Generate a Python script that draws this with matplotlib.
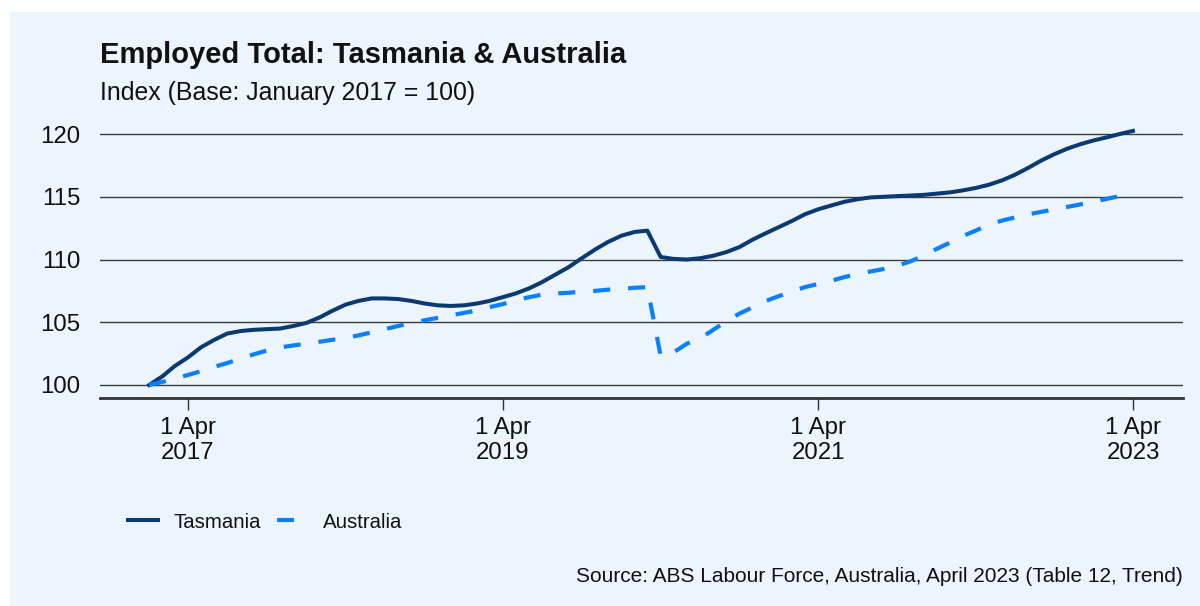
import pandas as pd
import matplotlib
matplotlib.use("Agg")
import matplotlib.pyplot as plt
from matplotlib.patches import Rectangle

plt.rcParams['font.family'] = ['Liberation Sans', 'DejaVu Sans']

# monthly trend index, Jan 2017 .. Apr 2023 (Jan 2017 = 100)
months = pd.date_range("2017-01-01", "2023-04-01", freq="MS")
tasmania = [
    100.0, 100.7, 101.5, 102.2, 103.0, 103.6, 104.1, 104.3, 104.4, 104.45, 104.5, 104.7,
    104.95, 105.4, 105.9, 106.4, 106.7, 106.9, 106.9, 106.85, 106.7, 106.5, 106.35, 106.3,
    106.35, 106.5, 106.7, 107.0, 107.3, 107.7, 108.2, 108.8, 109.4, 110.1, 110.8, 111.4,
    111.9, 112.2, 112.3, 110.2, 110.05, 110.0, 110.1, 110.3, 110.6, 111.0, 111.6, 112.1,
    112.6, 113.1, 113.6, 114.0, 114.3, 114.6, 114.8, 114.95, 115.0, 115.05, 115.1, 115.15,
    115.25, 115.35, 115.5, 115.7, 115.95, 116.3, 116.75, 117.3, 117.9, 118.4, 118.85, 119.2,
    119.5, 119.75, 120.0, 120.25,
]
australia = [
    100.0, 100.25, 100.5, 100.8, 101.1, 101.45, 101.75, 102.1, 102.45, 102.75, 103.0, 103.15,
    103.3, 103.45, 103.6, 103.75, 103.95, 104.2, 104.45, 104.7, 104.95, 105.15, 105.35, 105.55,
    105.75, 105.95, 106.2, 106.45, 106.75, 107.0, 107.2, 107.3, 107.35, 107.45, 107.5, 107.6,
    107.65, 107.75, 107.8, 102.3, 102.6, 103.3, 103.7, 104.4, 105.1, 105.7, 106.2, 106.7,
    107.1, 107.45, 107.8, 108.05, 108.3, 108.6, 108.85, 109.05, 109.25, 109.5, 109.85, 110.3,
    110.85, 111.35, 111.85, 112.3, 112.75, 113.1, 113.35, 113.6, 113.8, 114.0, 114.2, 114.4,
    114.6, 114.85, 115.05, 115.3,
]
tick_dates = pd.to_datetime(["2017-04-01", "2019-04-01", "2021-04-01", "2023-04-01"])
tick_labels = ["1 Apr\n2017", "1 Apr\n2019", "1 Apr\n2021", "1 Apr\n2023"]
y_ticks = [100, 105, 110, 115, 120]

bg = "#ecf4fe"
navy = "#0b3a70"
blue = "#0a80ff"


def main():
    fig = plt.figure(figsize=(12, 6.06), dpi=100, facecolor="white")
    fig.patches.append(Rectangle((10 / 1200, 0), 1, 1 - 12 / 606, transform=fig.transFigure,
                                 facecolor=bg, edgecolor="none", zorder=-10))

    ax = fig.add_axes([100 / 1200, 208 / 606, 1083 / 1200, 271.5 / 606])
    ax.patch.set_alpha(0)

    ax.plot(months, tasmania, color=navy, lw=2.9, label="Tasmania", zorder=3)
    ax.plot(months, australia, color=blue, lw=3.0, label="Australia", zorder=3,
            dashes=(4.1, 4.3))

    ax.set_ylim(98.964, 120.6)
    ax.set_xlim(pd.Timestamp("2016-09-09"), pd.Timestamp("2023-07-26"))
    ax.set_yticks(y_ticks)
    ax.set_yticklabels([str(v) for v in y_ticks])
    ax.set_xticks(tick_dates)
    ax.set_xticklabels(tick_labels, linespacing=1.2)

    for v in y_ticks:
        ax.axhline(v, color="#3c3c3c", lw=1.0, zorder=1)

    for s in ["top", "right", "left"]:
        ax.spines[s].set_visible(False)
    ax.spines["bottom"].set_color("#333333")
    ax.spines["bottom"].set_linewidth(2.0)

    ax.tick_params(axis="y", length=0, pad=14, labelsize=17.3, labelcolor="#111111")
    ax.tick_params(axis="x", length=8.6, width=1.0, color="#333333", pad=5,
                   labelsize=17.3, labelcolor="#111111")

    fig.text(100 / 1200, 1 - 63 / 606, "Employed Total: Tasmania & Australia",
             fontsize=21, fontweight="bold", va="baseline", ha="left", color="#111111")
    fig.text(100 / 1200, 1 - 100 / 606, "Index (Base: January 2017 = 100)",
             fontsize=17.9, va="baseline", ha="left", color="#111111")
    fig.text(1183 / 1200, 1 - 582 / 606,
             "Source: ABS Labour Force, Australia, April 2023 (Table 12, Trend)",
             fontsize=15.05, va="baseline", ha="right", color="#111111")

    leg = fig.legend(loc="center left", bbox_to_anchor=(128 / 1200, 1 - 522 / 606),
                     ncol=2, frameon=False, fontsize=14.7, handlelength=1.47,
                     handletextpad=0.78, columnspacing=0.78, borderpad=0,
                     borderaxespad=0)
    for t in leg.get_texts():
        t.set_color("#111111")

    fig.savefig("out.png", dpi=100, facecolor="white")


if __name__ == '__main__':
    main()
